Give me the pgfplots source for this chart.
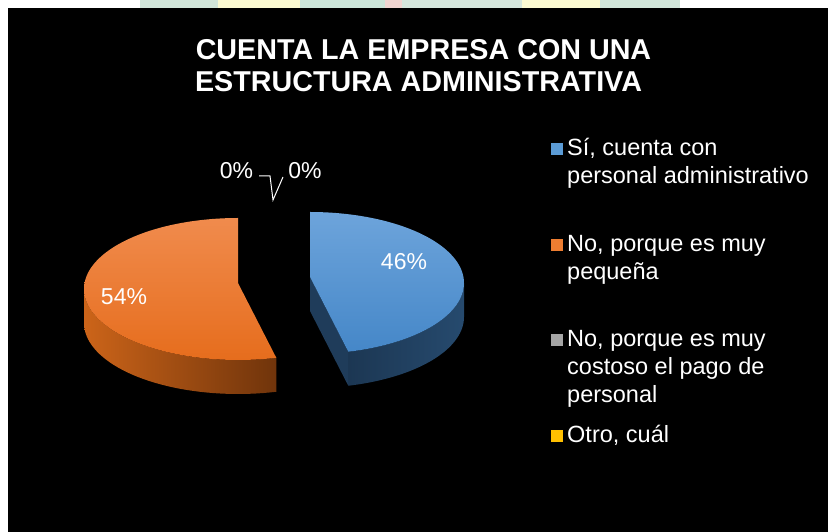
\documentclass[border=0pt]{standalone}
\usepackage{pgfplots}
\pgfplotsset{compat=1.18}
\usepackage{pgfplotstable}
\usepackage{fontspec}
\setmainfont{Liberation Sans}
\definecolor{cBlue}{HTML}{5B9BD5}
\definecolor{cOrange}{HTML}{ED7D31}
\definecolor{cGray}{HTML}{A5A5A5}
\definecolor{cYellow}{HTML}{FFC000}
\definecolor{bTopA}{HTML}{6DA4DB}
\definecolor{bTopB}{HTML}{4587C8}
\definecolor{bWallA}{HTML}{1C3753}
\definecolor{bWallB}{HTML}{264A6E}
\definecolor{bFace}{HTML}{1F3C5A}
\definecolor{oTopA}{HTML}{F08B4D}
\definecolor{oTopB}{HTML}{E66D1D}
\definecolor{oWallA}{HTML}{CC6419}
\definecolor{oWallB}{HTML}{70340B}
\definecolor{sA}{HTML}{D2E6DA}
\definecolor{sB}{HTML}{FCFAD2}
\definecolor{sC}{HTML}{CDE6DA}
\definecolor{sD}{HTML}{F2D6D2}
\definecolor{sE}{HTML}{D6E7DD}

\pgfplotstableread{
id value
1 46
2 54
3 0
4 0
}\piedata
\pgfplotstablegetelem{0}{value}\of\piedata \let\vA\pgfplotsretval
\pgfplotstablegetelem{1}{value}\of\piedata \let\vB\pgfplotsretval
\pgfmathsetmacro\tA{90}
\pgfmathsetmacro\tB{90-3.6*\vA}
\pgfmathsetmacro\tC{\tB-3.6*\vB}
% geometry (pt = px)
\def\rx{154}\def\ry{71}\def\dep{34}
% blue slice: apex and ellipse centre
\def\bax{310}\def\bay{255}\def\bcx{310}\def\bcy{249}
% orange slice
\def\oax{238}\def\oay{249}\def\ocx{238}\def\ocy{243}
\pgfmathsetmacro\bex{\bcx+\rx*cos(\tB)}
\pgfmathsetmacro\bey{\bcy+\ry*sin(\tB)}
\pgfmathsetmacro\beyd{\bey-\dep}
\pgfmathsetmacro\bayd{\bay-\dep}

\begin{document}%
\begin{tikzpicture}
\begin{axis}[x=1pt,y=1pt,xmin=0,xmax=830,ymin=0,ymax=532,
  hide axis,scale only axis,clip=false,anchor=origin,at={(0,0)}]
% background
\fill[white] (axis cs:0,0) rectangle (axis cs:830,532);
\fill[sA] (axis cs:140,524) rectangle (axis cs:218,532);
\fill[sB] (axis cs:218,524) rectangle (axis cs:300,532);
\fill[sC] (axis cs:300,524) rectangle (axis cs:385,532);
\fill[sD] (axis cs:385,524) rectangle (axis cs:402,532);
\fill[sE] (axis cs:402,524) rectangle (axis cs:522,532);
\fill[sB] (axis cs:522,524) rectangle (axis cs:600,532);
\fill[sA] (axis cs:600,524) rectangle (axis cs:680,532);
\fill[black] (axis cs:8,0) rectangle (axis cs:828,524);

% ---------- orange slice ----------
\addplot[draw=none,left color=oWallA,right color=oWallB,
  variable=\t,domain=0:81,samples=82]
  ({\ocx+\rx*cos((1-(\t>40.5))*(-180+(\tB+180)*\t/40)+(\t>40.5)*(\tB+(-180-\tB)*(\t-41)/40))},
   {\ocy+\ry*sin((1-(\t>40.5))*(-180+(\tB+180)*\t/40)+(\t>40.5)*(\tB+(-180-\tB)*(\t-41)/40))-\dep*(\t>40.5)})
  -- cycle;
\addplot[draw=none,top color=oTopA,bottom color=oTopB,
  variable=\t,domain=\tC:\tB,samples=120]
  ({\ocx+\rx*cos(\t)},{\ocy+\ry*sin(\t)}) -- (axis cs:\oax,\oay) -- cycle;

% ---------- blue slice ----------
\addplot[draw=none,fill=bFace]
  coordinates {(\bax,\bay) (\bex,\bey) (\bex,\beyd) (\bax,\bayd)} -- cycle;
\addplot[draw=none,left color=bWallA,right color=bWallB,
  variable=\t,domain=0:81,samples=82]
  ({\bcx+\rx*cos((1-(\t>40.5))*(\tB+(0-\tB)*\t/40)+(\t>40.5)*(0+(\tB-0)*(\t-41)/40))},
   {\bcy+\ry*sin((1-(\t>40.5))*(\tB+(0-\tB)*\t/40)+(\t>40.5)*(0+(\tB-0)*(\t-41)/40))-\dep*(\t>40.5)})
  -- cycle;
\addplot[draw=none,top color=bTopA,bottom color=bTopB,
  variable=\t,domain=\tB:\tA,samples=120]
  ({\bcx+\rx*cos(\t)},{\bcy+\ry*sin(\t)}) -- (axis cs:\bax,\bay) -- cycle;

% leader lines for the 0% labels
\addplot[white,line width=1pt] coordinates {(259,356) (270,356) (273,332) (283,355)};

% data labels
\node[anchor=base,text=white,inner sep=0pt,font=\fontsize{23}{27}\selectfont] at (axis cs:404,262) {46\%};
\node[anchor=base,text=white,inner sep=0pt,font=\fontsize{23}{27}\selectfont] at (axis cs:124,227) {54\%};
\node[anchor=base,text=white,inner sep=0pt,font=\fontsize{23}{27}\selectfont] at (axis cs:236.5,353) {0\%};
\node[anchor=base,text=white,inner sep=0pt,font=\fontsize{23}{27}\selectfont] at (axis cs:305,353) {0\%};

% title
\node[anchor=base,text=white,inner sep=0pt,font=\fontsize{28.7}{34}\selectfont\bfseries] at (axis cs:423.5,472) {CUENTA LA EMPRESA CON UNA};
\node[anchor=base,text=white,inner sep=0pt,font=\fontsize{28.7}{34}\selectfont\bfseries] at (axis cs:418.5,440) {ESTRUCTURA ADMINISTRATIVA};

% legend
\fill[cBlue]   (axis cs:551,377) rectangle (axis cs:563,389);
\fill[cOrange] (axis cs:551,281) rectangle (axis cs:563,293);
\fill[cGray]   (axis cs:551,186) rectangle (axis cs:563,198);
\fill[cYellow] (axis cs:551,90)  rectangle (axis cs:563,102);
\begin{scope}[every node/.style={anchor=base west,text=white,inner sep=0pt,font=\fontsize{23.5}{28}\selectfont}]
\node at (axis cs:567,376) {Sí, cuenta con};
\node at (axis cs:567,348) {personal administrativo};
\node at (axis cs:567,280) {No, porque es muy};
\node at (axis cs:567,252) {pequeña};
\node at (axis cs:567,185) {No, porque es muy};
\node at (axis cs:567,157) {costoso el pago de};
\node at (axis cs:567,129) {personal};
\node at (axis cs:567,89)  {Otro, cuál};
\end{scope}
\end{axis}
\pgfresetboundingbox
\path (0,0) rectangle (830pt,532pt);
\end{tikzpicture}%
\end{document}
